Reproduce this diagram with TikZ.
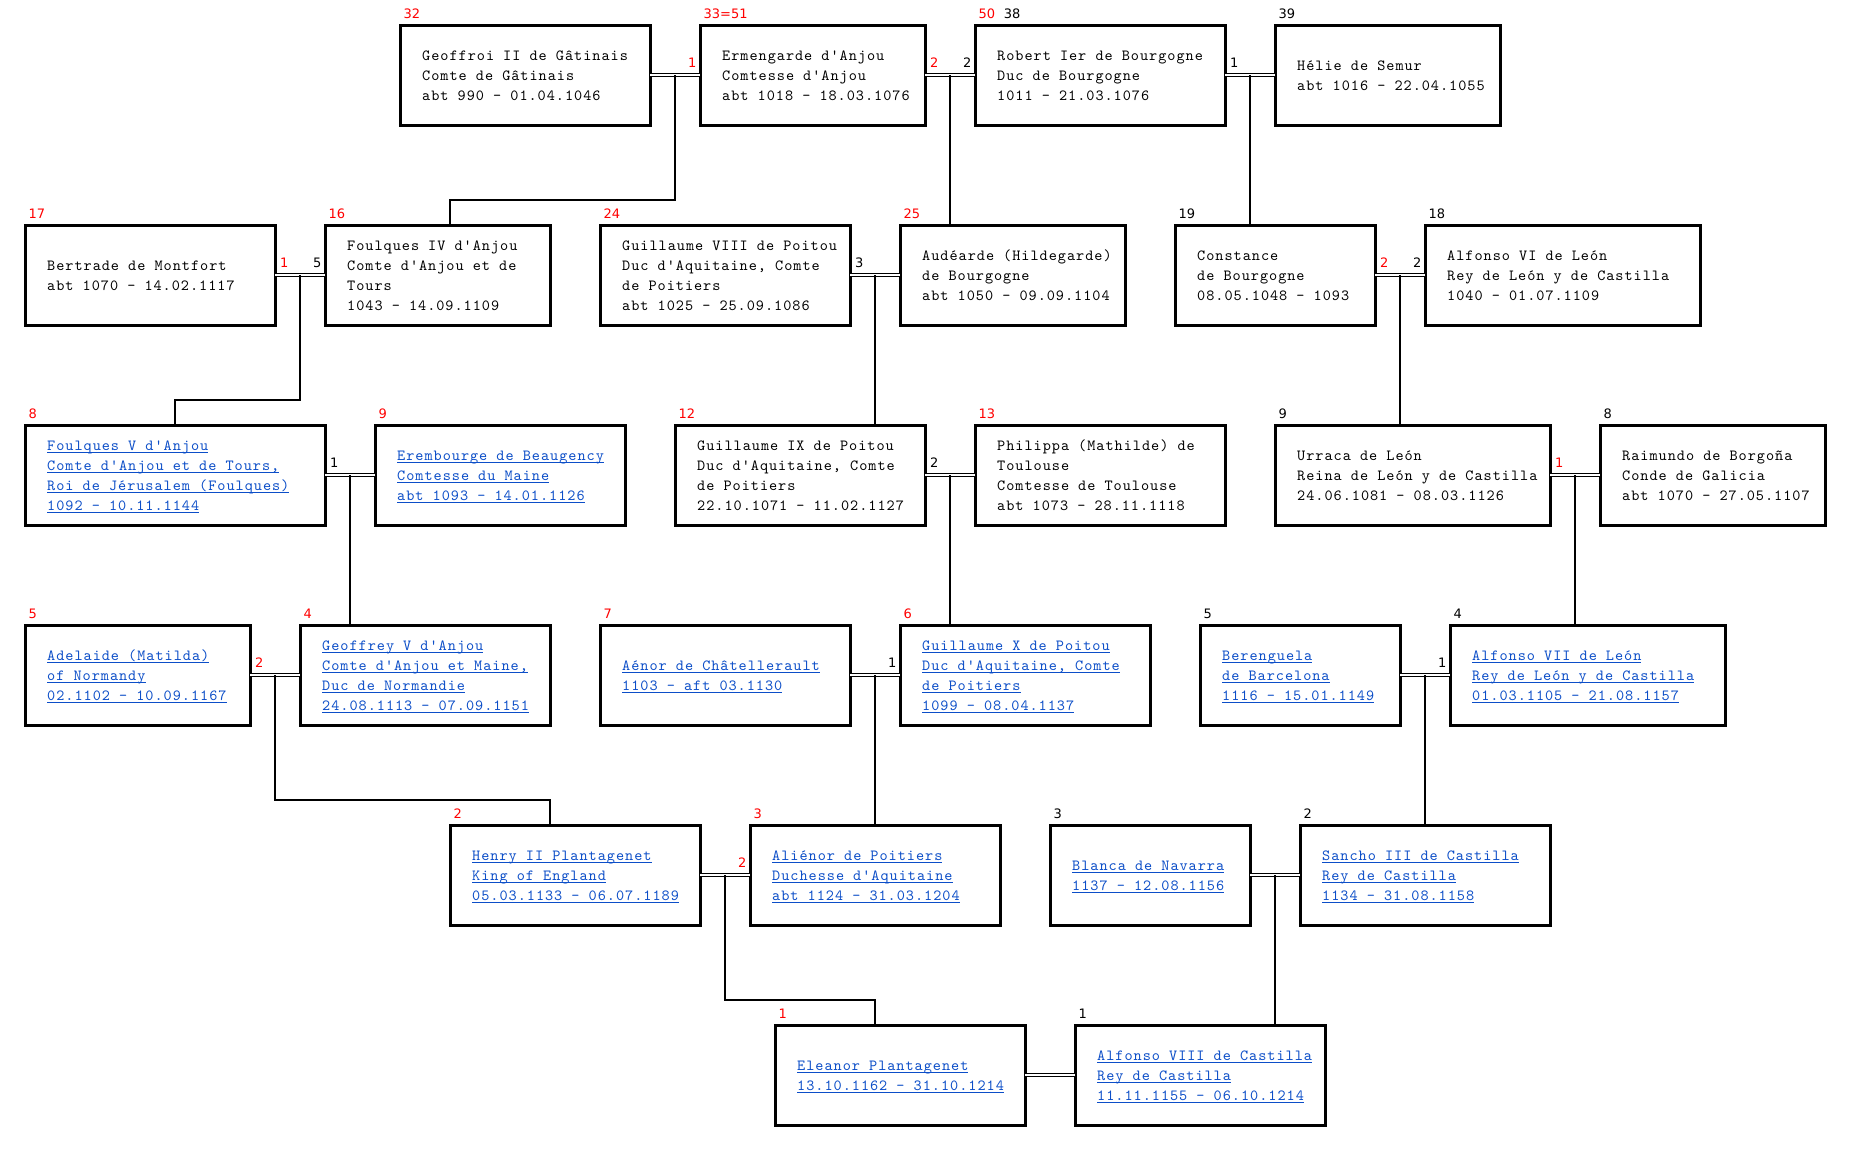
\documentclass[tikz,border=0pt]{standalone}
\usepackage{fontspec}
\usetikzlibrary{calc}
\newfontfamily\monof{lmmono10-regular.otf}[Ligatures=TeXOff,LetterSpace=6.3]
\newfontfamily\labf{DejaVu Sans}
\definecolor{linkblue}{RGB}{12,78,200}
\newsavebox\ulbox
\newcommand\ulk[1]{\strut\sbox\ulbox{#1}\rlap{\rule[-2.6pt]{\wd\ulbox}{1pt}}\usebox\ulbox}
\newcommand\pln[1]{\strut#1}
\tikzset{
  pbox/.style={draw, line width=3pt, inner sep=0pt, outer sep=0pt, minimum height=100pt},
  ptext/.style={anchor=west, inner sep=0pt, align=left, font=\monof\fontsize{15.5}{20}\selectfont},
  plink/.style={ptext, text=linkblue},
  numlab/.style={anchor=base west, inner sep=0pt, font=\labf\fontsize{13}{15}\selectfont},
  dbl/.style={double, line width=1pt, double distance=1.2pt},
  kid/.style={line width=2pt},
}
\newcommand\pers[6]{%
  \node[pbox,minimum width=#4pt] (#1) at (#2,#3) {};
  \node[#5] (#1-t) at ([xshift=22pt,yshift=-1.7pt]#1.west) {#6};}
\newcommand\nlab[3]{\node[numlab,text=#3] (#1-n) at ([xshift=3.5pt,yshift=6.7pt]#1.north west) {#2};}
\newcommand\llab[4]{\node[numlab,text=#4] (#1) at ([xshift=5pt,yshift=7.3pt]#2.east) {#3};}
\newcommand\rlab[4]{\node[numlab,anchor=base east,text=#4] (#1) at ([xshift=-3.5pt,yshift=7.3pt]#2.west) {#3};}
\newcommand\couple[3]{%
  \draw[dbl] (#2.east) -- (#3.west);
  \coordinate (#1) at ($(#2.east)!0.5!(#3.west)$);}
\begin{document}
\begin{tikzpicture}[x=1pt,y=-1pt]
\fill[white] (0,0) rectangle (1851,1151);
\useasboundingbox (0,0) rectangle (1851,1151);

% Row 1
\pers{geoffroi}{525}{75}{250}{ptext}{\pln{Geoffroi II de Gâtinais}\\\pln{Comte de Gâtinais}\\\pln{abt 990 - 01.04.1046}}
\pers{ermengarde}{812.5}{75}{225}{ptext}{\pln{Ermengarde d'Anjou}\\\pln{Comtesse d'Anjou}\\\pln{abt 1018 - 18.03.1076}}
\pers{robert}{1100}{75}{250}{ptext}{\pln{Robert Ier de Bourgogne}\\\pln{Duc de Bourgogne}\\\pln{1011 - 21.03.1076}}
\pers{helie}{1387.5}{75}{225}{ptext}{\pln{Hélie de Semur}\\\pln{abt 1016 - 22.04.1055}}

% Row 2
\pers{bertrade}{150}{275}{250}{ptext}{\pln{Bertrade de Montfort}\\\pln{abt 1070 - 14.02.1117}}
\pers{foulquesiv}{437.5}{275}{225}{ptext}{\pln{Foulques IV d'Anjou}\\\pln{Comte d'Anjou et de}\\\pln{Tours}\\\pln{1043 - 14.09.1109}}
\pers{guillviii}{725}{275}{250}{ptext}{\pln{Guillaume VIII de Poitou}\\\pln{Duc d'Aquitaine, Comte}\\\pln{de Poitiers}\\\pln{abt 1025 - 25.09.1086}}
\pers{audearde}{1012.5}{275}{225}{ptext}{\pln{Audéarde (Hildegarde)}\\\pln{de Bourgogne}\\\pln{abt 1050 - 09.09.1104}}
\pers{constance}{1275}{275}{200}{ptext}{\pln{Constance}\\\pln{de Bourgogne}\\\pln{08.05.1048 - 1093}}
\pers{alfonsovi}{1562.5}{275}{275}{ptext}{\pln{Alfonso VI de León}\\\pln{Rey de León y de Castilla}\\\pln{1040 - 01.07.1109}}

% Row 3
\pers{foulquesv}{175}{475}{300}{plink}{\ulk{Foulques V d'Anjou}\\\ulk{Comte d'Anjou et de Tours,}\\\ulk{Roi de Jérusalem (Foulques)}\\\ulk{1092 - 10.11.1144}}
\pers{erembourge}{500}{475}{250}{plink}{\ulk{Erembourge de Beaugency}\\\ulk{Comtesse du Maine}\\\ulk{abt 1093 - 14.01.1126}}
\pers{guillix}{800}{475}{250}{ptext}{\pln{Guillaume IX de Poitou}\\\pln{Duc d'Aquitaine, Comte}\\\pln{de Poitiers}\\\pln{22.10.1071 - 11.02.1127}}
\pers{philippa}{1100}{475}{250}{ptext}{\pln{Philippa (Mathilde) de}\\\pln{Toulouse}\\\pln{Comtesse de Toulouse}\\\pln{abt 1073 - 28.11.1118}}
\pers{urraca}{1412.5}{475}{275}{ptext}{\pln{Urraca de León}\\\pln{Reina de León y de Castilla}\\\pln{24.06.1081 - 08.03.1126}}
\pers{raimundo}{1712.5}{475}{225}{ptext}{\pln{Raimundo de Borgoña}\\\pln{Conde de Galicia}\\\pln{abt 1070 - 27.05.1107}}

% Row 4
\pers{adelaide}{137.5}{675}{225}{plink}{\ulk{Adelaide (Matilda)}\\\ulk{of Normandy}\\\ulk{02.1102 - 10.09.1167}}
\pers{geoffreyv}{425}{675}{250}{plink}{\ulk{Geoffrey V d'Anjou}\\\ulk{Comte d'Anjou et Maine,}\\\ulk{Duc de Normandie}\\\ulk{24.08.1113 - 07.09.1151}}
\pers{aenor}{725}{675}{250}{plink}{\ulk{Aénor de Châtellerault}\\\ulk{1103 - aft 03.1130}}
\pers{guillx}{1025}{675}{250}{plink}{\ulk{Guillaume X de Poitou}\\\ulk{Duc d'Aquitaine, Comte}\\\ulk{de Poitiers}\\\ulk{1099 - 08.04.1137}}
\pers{berenguela}{1300}{675}{200}{plink}{\ulk{Berenguela}\\\ulk{de Barcelona}\\\ulk{1116 - 15.01.1149}}
\pers{alfonsovii}{1587.5}{675}{275}{plink}{\ulk{Alfonso VII de León}\\\ulk{Rey de León y de Castilla}\\\ulk{01.03.1105 - 21.08.1157}}

% Row 5
\pers{henry}{575}{875}{250}{plink}{\ulk{Henry II Plantagenet}\\\ulk{King of England}\\\ulk{05.03.1133 - 06.07.1189}}
\pers{alienor}{875}{875}{250}{plink}{\ulk{Aliénor de Poitiers}\\\ulk{Duchesse d'Aquitaine}\\\ulk{abt 1124 - 31.03.1204}}
\pers{blanca}{1150}{875}{200}{plink}{\ulk{Blanca de Navarra}\\\ulk{1137 - 12.08.1156}}
\pers{sancho}{1425}{875}{250}{plink}{\ulk{Sancho III de Castilla}\\\ulk{Rey de Castilla}\\\ulk{1134 - 31.08.1158}}

% Row 6
\pers{eleanor}{900}{1075}{250}{plink}{\ulk{Eleanor Plantagenet}\\\ulk{13.10.1162 - 31.10.1214}}
\pers{alfonsoviii}{1200}{1075}{250}{plink}{\ulk{Alfonso VIII de Castilla}\\\ulk{Rey de Castilla}\\\ulk{11.11.1155 - 06.10.1214}}

% Sosa numbers
\nlab{geoffroi}{32}{red}
\nlab{ermengarde}{33=51}{red}
\node[numlab] (robert-n) at ([xshift=3.5pt,yshift=6.7pt]robert.north west) {\textcolor{red}{50}\hspace{8.5pt}38};
\nlab{helie}{39}{black}
\nlab{bertrade}{17}{red}
\nlab{foulquesiv}{16}{red}
\nlab{guillviii}{24}{red}
\nlab{audearde}{25}{red}
\nlab{constance}{19}{black}
\nlab{alfonsovi}{18}{black}
\nlab{foulquesv}{8}{red}
\nlab{erembourge}{9}{red}
\nlab{guillix}{12}{red}
\nlab{philippa}{13}{red}
\nlab{urraca}{9}{black}
\nlab{raimundo}{8}{black}
\nlab{adelaide}{5}{red}
\nlab{geoffreyv}{4}{red}
\nlab{aenor}{7}{red}
\nlab{guillx}{6}{red}
\nlab{berenguela}{5}{black}
\nlab{alfonsovii}{4}{black}
\nlab{henry}{2}{red}
\nlab{alienor}{3}{red}
\nlab{blanca}{3}{black}
\nlab{sancho}{2}{black}
\nlab{eleanor}{1}{red}
\nlab{alfonsoviii}{1}{black}

% Couples
\couple{mA}{geoffroi}{ermengarde}
\couple{mB}{ermengarde}{robert}
\couple{mC}{robert}{helie}
\couple{mD}{bertrade}{foulquesiv}
\couple{mE}{guillviii}{audearde}
\couple{mF}{constance}{alfonsovi}
\couple{mG}{foulquesv}{erembourge}
\couple{mH}{guillix}{philippa}
\couple{mI}{urraca}{raimundo}
\couple{mJ}{adelaide}{geoffreyv}
\couple{mK}{aenor}{guillx}
\couple{mL}{berenguela}{alfonsovii}
\couple{mM}{henry}{alienor}
\couple{mN}{blanca}{sancho}
\couple{mO}{eleanor}{alfonsoviii}

% Marriage numbers
\rlab{lA}{ermengarde}{1}{red}
\llab{lB1}{ermengarde}{2}{red}
\rlab{lB2}{robert}{2}{black}
\llab{lC}{robert}{1}{black}
\llab{lD1}{bertrade}{1}{red}
\rlab{lD2}{foulquesiv}{5}{black}
\llab{lE}{guillviii}{3}{black}
\llab{lF1}{constance}{2}{red}
\rlab{lF2}{alfonsovi}{2}{black}
\llab{lG}{foulquesv}{1}{black}
\llab{lH}{guillix}{2}{black}
\llab{lI}{urraca}{1}{red}
\llab{lJ}{adelaide}{2}{red}
\rlab{lK}{guillx}{1}{black}
\rlab{lL}{alfonsovii}{1}{black}
\rlab{lM}{alienor}{2}{red}

% Descent lines
\coordinate (bA) at (450,200);
\coordinate (bD) at (175,400);
\coordinate (bJ) at (550,800);
\coordinate (bM) at (875,1000);
\draw[kid] (mA) |- (bA) -- (bA |- foulquesiv.north);
\draw[kid] (mB) -- (mB |- audearde.north);
\draw[kid] (mC) -- (mC |- constance.north);
\draw[kid] (mD) |- (bD) -- (bD |- foulquesv.north);
\draw[kid] (mE) -- (mE |- guillix.north);
\draw[kid] (mF) -- (mF |- urraca.north);
\draw[kid] (mG) -- (mG |- geoffreyv.north);
\draw[kid] (mH) -- (mH |- guillx.north);
\draw[kid] (mI) -- (mI |- alfonsovii.north);
\draw[kid] (mJ) |- (bJ) -- (bJ |- henry.north);
\draw[kid] (mK) -- (mK |- alienor.north);
\draw[kid] (mL) -- (mL |- sancho.north);
\draw[kid] (mM) |- (bM) -- (bM |- eleanor.north);
\draw[kid] (mN) -- (mN |- alfonsoviii.north);
\end{tikzpicture}
\end{document}
